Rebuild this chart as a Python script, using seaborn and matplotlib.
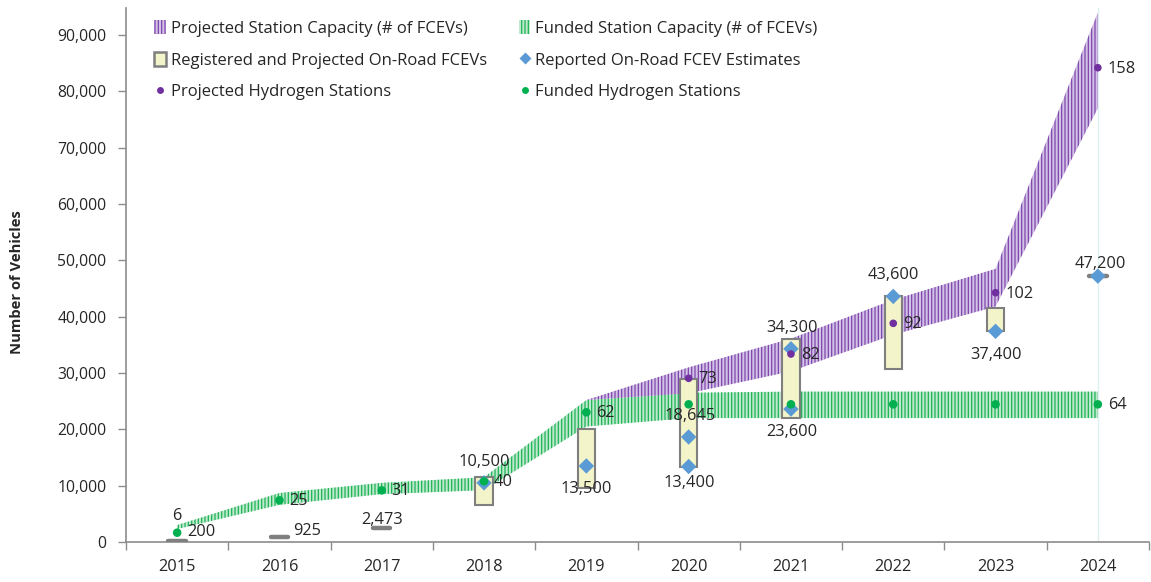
import matplotlib
matplotlib.use("Agg")
import matplotlib.pyplot as plt
from matplotlib.patches import Patch
from matplotlib.lines import Line2D
from matplotlib.ticker import FixedLocator, FuncFormatter
import numpy as np
import pandas as pd
import seaborn as sns

# ---- data ----
years = [2015, 2016, 2017, 2018, 2019, 2020, 2021, 2022, 2023, 2024]

# funded station capacity band (# of FCEVs)
funded_cap_low = [2300, 6600, 8500, 9200, 20500, 22000, 22000, 22000, 22000, 22000]
funded_cap_high = [3000, 8700, 10500, 11500, 25200, 26500, 26700, 26700, 26700, 26700]

# projected station capacity band (# of FCEVs), starting in 2019
proj_years = [2019, 2020, 2021, 2022, 2023, 2024]
proj_cap_low = [25200, 26400, 30300, 36800, 41800, 77000]
proj_cap_high = [25200, 31000, 36100, 43000, 48500, 94000]

# registered and projected on-road FCEVs (low / high)
onroad_low = [200, 925, 2473, 6600, 9500, 13400, 22100, 30800, 37400, 47200]
onroad_high = [200, 925, 2473, 11600, 20000, 29000, 36000, 43600, 41600, 47200]

# reported on-road FCEV estimates
reported_years = [2018, 2019, 2020, 2020, 2021, 2021, 2022, 2023, 2024]
reported_values = [10500, 13500, 18645, 13400, 34300, 23600, 43600, 37400, 47200]

# hydrogen stations (count labels, drawn at their vehicle-scale positions)
funded_st_pos = [1650, 7400, 9170, 10770, 23020, 24440, 24440, 24440, 24440, 24440]
funded_st_count = [6, 25, 31, 40, 62, None, None, None, None, 64]
proj_st_years = [2020, 2021, 2022, 2023, 2024]
proj_st_pos = [29060, 33370, 38820, 44260, 84200]
proj_st_count = [73, 82, 92, 102, 158]

# ---- style ----
PURPLE = "#7030a0"
PURPLE_LINE = "#7d45ad"
PURPLE_FACE = "#d3c2e6"
GREEN = "#00b050"
GREEN_LINE = "#1db458"
GREEN_FACE = "#bfe9cc"
BOX_FACE = "#f3f4c9"
BOX_EDGE = "#7f7f7f"
BLUE = "#5b9bd5"
AXIS = "#8c8c8c"
TEXT = "#262626"
FS = 11.8

sns.set_theme(style="white")
plt.rcParams["font.family"] = ["Open Sans", "DejaVu Sans"]
plt.rcParams["hatch.linewidth"] = 0.9

fig = plt.figure(figsize=(11.51, 5.82), dpi=100)
ax = fig.add_axes([126 / 1151, 40 / 582, 1023 / 1151, 534 / 582])

idx = {y: i for i, y in enumerate(years)}
xs = np.arange(len(years))
pxs = np.array([idx[y] for y in proj_years])

# faint marker line at the final year
ax.axvline(idx[2024], color="#dff0f0", lw=1.0, zorder=0)

# capacity bands
ax.fill_between(xs, funded_cap_low, funded_cap_high, facecolor=GREEN_FACE,
                edgecolor=GREEN_LINE, hatch="|||||", linewidth=0, zorder=1)
ax.fill_between(pxs, proj_cap_low, proj_cap_high, facecolor=PURPLE_FACE,
                edgecolor=PURPLE_LINE, hatch="|||||", linewidth=0, zorder=1)

# on-road FCEV boxes
box_w = 0.17
heights = np.array(onroad_high) - np.array(onroad_low)
for i, (lo, h) in enumerate(zip(onroad_low, heights)):
    if h > 0:
        ax.bar(i, h, bottom=lo, width=box_w, color=BOX_FACE, edgecolor=BOX_EDGE,
               linewidth=1.5, zorder=3)
    else:
        ax.bar(i, 0, bottom=lo, width=box_w, color=BOX_EDGE, edgecolor=BOX_EDGE,
               linewidth=3.2, zorder=3, capstyle="round", joinstyle="round")

# station dots and reported estimates
df_funded = pd.DataFrame({"x": xs, "y": funded_st_pos})
df_proj = pd.DataFrame({"x": [idx[y] for y in proj_st_years], "y": proj_st_pos})
df_rep = pd.DataFrame({"x": [idx[y] for y in reported_years], "y": reported_values})
sns.scatterplot(data=df_rep, x="x", y="y", marker="D", s=62, color=BLUE,
                edgecolor="none", ax=ax, zorder=5)
sns.scatterplot(data=df_funded, x="x", y="y", marker="o", s=38, color=GREEN,
                edgecolor="none", ax=ax, zorder=6)
sns.scatterplot(data=df_proj, x="x", y="y", marker="o", s=30, color=PURPLE,
                edgecolor="none", ax=ax, zorder=6)


def fmt(v):
    return f"{v:,}"


def label(text, x, y, dx, dy, ha="left"):
    ax.annotate(text, xy=(x, y), xytext=(dx, dy), textcoords="offset pixels",
                ha=ha, va="center", fontsize=FS, color=TEXT, zorder=7)


# station count labels
for i, (pos, cnt) in enumerate(zip(funded_st_pos, funded_st_count)):
    if cnt is None:
        continue
    if i == 0:
        label(str(cnt), i, pos, 0, 17, ha="center")
    else:
        label(str(cnt), i, pos, 10, -1)
for y, pos, cnt in zip(proj_st_years, proj_st_pos, proj_st_count):
    label(str(cnt), idx[y], pos, 10, -1)

# on-road vehicle labels for the early years
label(fmt(onroad_low[0]), 0, onroad_low[0], 10, 9)
label(fmt(onroad_low[1]), 1, onroad_low[1], 14, 6)
label(fmt(onroad_low[2]), 2, onroad_low[2], 0, 8, ha="center")

# reported estimate labels (above / below the diamond)
rep_offsets = [21, -23, 21, -16, 21, -23, 21, -24, 12]
rep_dx = [0, 0, 1, 1, 1, 1, 0, 1, 2]
for y, v, dy, dx in zip(reported_years, reported_values, rep_offsets, rep_dx):
    label(fmt(v), idx[y], v, dx, dy, ha="center")

# ---- axes ----
ax.set_xlim(-0.5, len(years) - 0.5)
ax.set_ylim(0, 94800)
ax.xaxis.set_major_locator(FixedLocator(np.arange(-0.5, len(years), 1.0)))
ax.xaxis.set_minor_locator(FixedLocator(xs))
ax.xaxis.set_major_formatter(FuncFormatter(lambda v, p: ""))
ax.xaxis.set_minor_formatter(FuncFormatter(lambda v, p: str(years[int(round(v))])))
ax.tick_params(axis="x", which="major", direction="out", length=6, width=1,
               color=AXIS, bottom=True)
ax.tick_params(axis="x", which="minor", length=0, pad=12, labelsize=FS,
               labelcolor=TEXT, bottom=True)
ax.set_yticks(np.arange(0, 90001, 10000))
ax.yaxis.set_major_formatter(FuncFormatter(lambda v, p: f"{int(v):,}"))
ax.tick_params(axis="y", direction="out", length=6, width=1, color=AXIS,
               labelsize=11.3, labelcolor=TEXT, pad=8, left=True)
for side in ("top", "right"):
    ax.spines[side].set_visible(False)
for side in ("left", "bottom"):
    ax.spines[side].set_color(AXIS)
    ax.spines[side].set_linewidth(1.2)
ax.set_xlabel("")
ax.set_ylabel("Number of Vehicles", fontsize=10.6, fontweight="bold", color=TEXT)
ax.yaxis.set_label_coords(-0.0995, 0.487)
ax.grid(False)

# ---- legend ----
handles = [
    Patch(facecolor=PURPLE_FACE, edgecolor=PURPLE_LINE, hatch="|||||", linewidth=0),
    Patch(facecolor=BOX_FACE, edgecolor=BOX_EDGE, linewidth=1.8),
    Line2D([], [], marker="o", color="none", markerfacecolor=PURPLE,
           markeredgecolor="none", markersize=5),
    Patch(facecolor=GREEN_FACE, edgecolor=GREEN_LINE, hatch="|||||", linewidth=0),
    Line2D([], [], marker="D", color="none", markerfacecolor=BLUE,
           markeredgecolor="none", markersize=6),
    Line2D([], [], marker="o", color="none", markerfacecolor=GREEN,
           markeredgecolor="none", markersize=5),
]
labels = [
    "Projected Station Capacity (# of FCEVs)",
    "Registered and Projected On-Road FCEVs",
    "Projected Hydrogen Stations",
    "Funded Station Capacity (# of FCEVs)",
    "Reported On-Road FCEV Estimates",
    "Funded Hydrogen Stations",
]
ax.legend(handles, labels, ncol=2, loc="upper left",
          bbox_to_anchor=(0.013, 1.005), frameon=False, fontsize=12,
          handlelength=0.7, handleheight=0.9, handletextpad=0.3,
          columnspacing=1.9, labelspacing=0.9, labelcolor=TEXT)

fig.savefig("out.png", dpi=100)
